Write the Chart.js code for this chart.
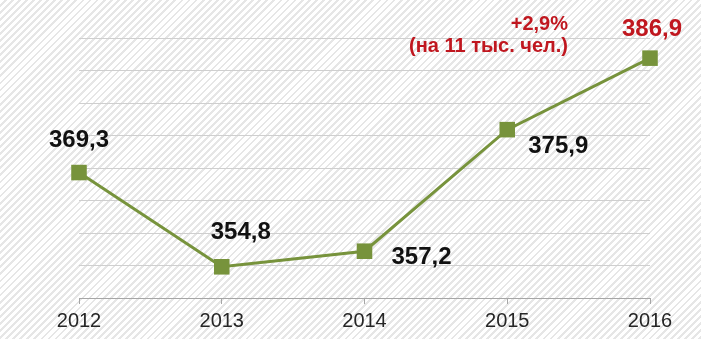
<!DOCTYPE html>
<html>
<head>
<meta charset="utf-8">
<script src="https://cdn.jsdelivr.net/npm/chart.js@4"></script>
<style>
  html, body {
    margin: 0;
    padding: 0;
  }
  body {
    width: 701px;
    height: 339px;
    overflow: hidden;
    background: repeating-linear-gradient(135deg, #ffffff 0 3px, #e6e6e6 3px 5px);
  }
  #wrap {
    position: relative;
    width: 701px;
    height: 339px;
  }
</style>
</head>
<body>
<div id="wrap"><canvas id="popChart"></canvas></div>
<script>
// ----------------- DATA -----------------
const years = ["2012", "2013", "2014", "2015", "2016"];
const population = [369.3, 354.8, 357.2, 375.9, 386.9];
const noteLines = ["+2,9%", "(на 11 тыс. чел.)"];

// label placement relative to each point (dx, dy)
const labelOffsets = [[0, -32], [19, -34], [57, 6], [51, 17], [2, -29]];
const labelColors = ["#111111", "#111111", "#111111", "#111111", "#c0171f"];

const FONT = "'Liberation Sans', Arial, sans-serif";
const GREEN = "#77933c";

function fmt(v) {
    return v.toFixed(1).replace(".", ",");
}

// ----------------- LABELS PLUGIN -----------------
const valueLabels = {
    id: "valueLabels",
    afterDatasetsDraw(chart) {
        const ctx = chart.ctx;
        const meta = chart.getDatasetMeta(0);
        ctx.save();
        ctx.font = "bold 24px " + FONT;
        ctx.textAlign = "center";
        ctx.textBaseline = "middle";
        meta.data.forEach((pt, i) => {
            ctx.fillStyle = labelColors[i];
            ctx.fillText(fmt(population[i]), pt.x + labelOffsets[i][0], pt.y + labelOffsets[i][1]);
        });

        // growth note above the last segment
        ctx.font = "bold 20px " + FONT;
        ctx.fillStyle = "#c0171f";
        ctx.textAlign = "right";
        ctx.fillText(noteLines[0], 568, 24);
        ctx.fillText(noteLines[1], 568, 46);
        ctx.restore();
    }
};

// ----------------- CHART -----------------
const ctx = document.getElementById("popChart").getContext("2d");

new Chart(ctx, {
    type: "line",
    data: {
        labels: years,
        datasets: [{
            data: population,
            borderColor: GREEN,
            borderWidth: 3,
            tension: 0,
            pointStyle: "rect",
            pointRadius: 11,
            pointHoverRadius: 11,
            pointBackgroundColor: GREEN,
            pointBorderColor: GREEN,
            pointBorderWidth: 0
        }]
    },
    options: {
        responsive: true,
        maintainAspectRatio: false,
        animation: false,
        events: [],
        layout: {
            padding: { left: 79, right: 51, top: 38, bottom: 0 }
        },
        plugins: {
            legend: { display: false },
            tooltip: { enabled: false }
        },
        scales: {
            x: {
                offset: false,
                afterFit(scale) { scale.height = 41; },
                grid: {
                    drawOnChartArea: false,
                    drawTicks: true,
                    tickLength: 6,
                    color: "#a6a6a6"
                },
                border: { display: true, color: "#a6a6a6", width: 1 },
                ticks: {
                    color: "#262626",
                    padding: 5,
                    font: { family: FONT, size: 20 }
                }
            },
            y: {
                min: 350,
                max: 390,
                afterFit(scale) { scale.width = 0; },
                ticks: { display: false, stepSize: 5 },
                border: { display: false },
                grid: {
                    drawTicks: false,
                    color: "#cfcfcf",
                    lineWidth: 1
                }
            }
        }
    },
    plugins: [valueLabels]
});
</script>
</body>
</html>
